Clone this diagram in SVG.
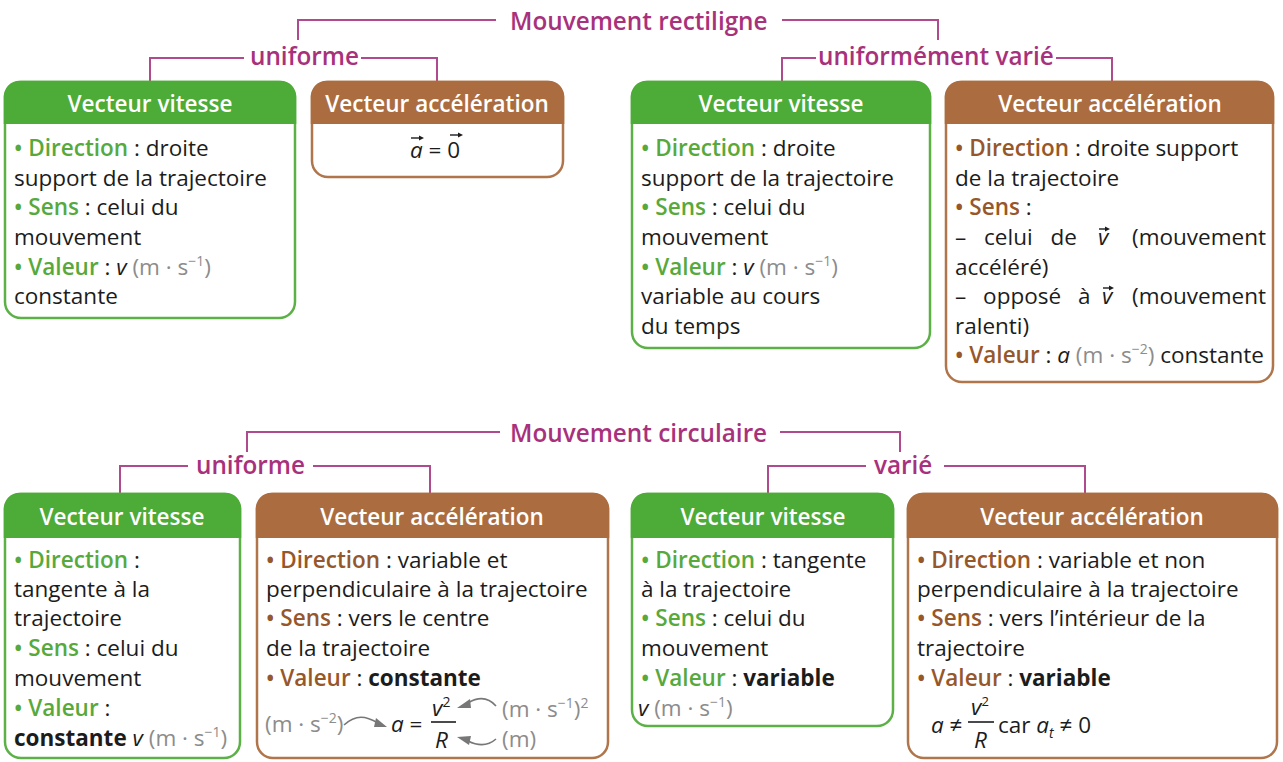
<svg xmlns="http://www.w3.org/2000/svg" width="1283" height="762" viewBox="0 0 1283 762">
<style>
text{font-family:"Open Sans","Noto Sans",sans-serif;}
.t{font-size:22.5px;fill:#1c1c1c;}
.g{fill:#57a93c;font-weight:600;}
.b{fill:#96572b;font-weight:600;}
.u{fill:#8c8c8c;}
.i{font-style:italic;}
.bd{font-weight:bold;}
.h{font-size:22.5px;font-weight:600;fill:#ffffff;text-anchor:middle;}
.m{font-size:24.3px;font-weight:600;fill:#a8317c;}
.gb{fill:#ffffff;stroke:#5bb046;stroke-width:2.5;}
.bb{fill:#ffffff;stroke:#b0754a;stroke-width:2.5;}
.gh{fill:#4dab37;}
.bh{fill:#ab6d3f;}
.br{fill:none;stroke:#b04a8e;stroke-width:2;}
.vec{fill:none;stroke:#1c1c1c;stroke-width:1.4;}
.arr{fill:#1c1c1c;}
.ca{fill:none;stroke:#777;stroke-width:1.6;}
.cah{fill:#777;}
</style>

<g id="connectors">
  <path class="br" d="M298,40 V20 H496"/>
  <path class="br" d="M782,20 H938 V40"/>
  <path class="br" d="M150,82 V58 H244"/>
  <path class="br" d="M361,58 H437 V82"/>
  <path class="br" d="M782,82 V58 H816"/>
  <path class="br" d="M1056,58 H1112 V82"/>
  <path class="br" d="M247,452 V432 H500"/>
  <path class="br" d="M780,432 H900 V452"/>
  <path class="br" d="M120,494 V466 H188"/>
  <path class="br" d="M313,466 H430 V494"/>
  <path class="br" d="M768,494 V466 H866"/>
  <path class="br" d="M944,466 H1085 V494"/>
</g>

<g id="titles">
  <text class="m" x="510" y="30">Mouvement rectiligne</text>
  <text class="m" x="250" y="65">uniforme</text>
  <text class="m" x="818" y="65">uniformément varié</text>
  <text class="m" x="510" y="442">Mouvement circulaire</text>
  <text class="m" x="196" y="474">uniforme</text>
  <text class="m" x="874" y="474">varié</text>
</g>

<!-- top row -->
<g id="rect-uniforme-vitesse">
  <rect class="gb" x="5" y="82" width="290" height="236" rx="16"/>
  <path class="gh" d="M3.75,124 V98 A16,16 0 0 1 19.75,80.75 H280.25 A16,16 0 0 1 296.25,98 V124 Z"/>
  <text class="h" x="150" y="112">Vecteur vitesse</text>
  <text class="t" x="14" y="156"><tspan class="g">• Direction</tspan> : droite</text>
  <text class="t" x="14" y="186">support de la trajectoire</text>
  <text class="t" x="14" y="215"><tspan class="g">• Sens</tspan> : celui du</text>
  <text class="t" x="14" y="245">mouvement</text>
  <text class="t" x="14" y="275"><tspan class="g">• Valeur</tspan> : <tspan class="i">v</tspan> <tspan class="u">(m · s<tspan font-size="14" dy="-9">−1</tspan><tspan dy="9">)</tspan></tspan></text>
  <text class="t" x="14" y="304">constante</text>
</g>

<g id="rect-uniforme-acceleration">
  <rect class="bb" x="312" y="82" width="251" height="95" rx="16"/>
  <path class="bh" d="M310.75,124 V98 A16,16 0 0 1 326.75,80.75 H548.25 A16,16 0 0 1 564.25,98 V124 Z"/>
  <text class="h" x="437" y="112">Vecteur accélération</text>
  <text class="t" x="410" y="158"><tspan class="i">a</tspan> = 0</text>
  <path class="vec" d="M411,138 H421"/><path class="arr" d="M424,138 L419,135.5 L419,140.5 Z"/>
  <path class="vec" d="M450,135 H460"/><path class="arr" d="M463,135 L458,132.5 L458,137.5 Z"/>
</g>

<g id="rect-uv-vitesse">
  <rect class="gb" x="632" y="82" width="298" height="266" rx="16"/>
  <path class="gh" d="M630.75,124 V98 A16,16 0 0 1 646.75,80.75 H915.25 A16,16 0 0 1 931.25,98 V124 Z"/>
  <text class="h" x="781" y="112">Vecteur vitesse</text>
  <text class="t" x="641" y="156"><tspan class="g">• Direction</tspan> : droite</text>
  <text class="t" x="641" y="186">support de la trajectoire</text>
  <text class="t" x="641" y="215"><tspan class="g">• Sens</tspan> : celui du</text>
  <text class="t" x="641" y="245">mouvement</text>
  <text class="t" x="641" y="275"><tspan class="g">• Valeur</tspan> : <tspan class="i">v</tspan> <tspan class="u">(m · s<tspan font-size="14" dy="-9">−1</tspan><tspan dy="9">)</tspan></tspan></text>
  <text class="t" x="641" y="304">variable au cours</text>
  <text class="t" x="641" y="334">du temps</text>
</g>

<g id="rect-uv-acceleration">
  <rect class="bb" x="946" y="82" width="327" height="300" rx="16"/>
  <path class="bh" d="M944.75,124 V98 A16,16 0 0 1 960.75,80.75 H1258.25 A16,16 0 0 1 1274.25,98 V124 Z"/>
  <text class="h" x="1110" y="112">Vecteur accélération</text>
  <text class="t" x="955" y="156"><tspan class="b">• Direction</tspan> : droite support</text>
  <text class="t" x="955" y="186">de la trajectoire</text>
  <text class="t" x="955" y="215"><tspan class="b">• Sens</tspan> :</text>
  <text class="t" x="955" y="245" word-spacing="12">– celui de</text>
  <text class="t i" x="1098" y="245">v</text>
  <path class="vec" d="M1099,229 H1107"/><path class="arr" d="M1110,229 L1105,226.5 L1105,231.5 Z"/>
  <text class="t" x="1266" y="245" text-anchor="end">(mouvement</text>
  <text class="t" x="955" y="275">accéléré)</text>
  <text class="t" x="955" y="304" word-spacing="11">– opposé à</text>
  <text class="t i" x="1102" y="304">v</text>
  <path class="vec" d="M1103,288 H1111"/><path class="arr" d="M1114,288 L1109,285.5 L1109,290.5 Z"/>
  <text class="t" x="1266" y="304" text-anchor="end">(mouvement</text>
  <text class="t" x="955" y="334">ralenti)</text>
  <text class="t" x="955" y="363"><tspan class="b">• Valeur</tspan> : <tspan class="i">a</tspan> <tspan class="u">(m · s<tspan font-size="14" dy="-9">−2</tspan><tspan dy="9">)</tspan></tspan> constante</text>
</g>

<!-- bottom row -->
<g id="circ-uniforme-vitesse">
  <rect class="gb" x="5" y="494" width="235" height="264" rx="16"/>
  <path class="gh" d="M3.75,538 V510 A16,16 0 0 1 19.75,492.75 H225.25 A16,16 0 0 1 241.25,510 V538 Z"/>
  <text class="h" x="122" y="525">Vecteur vitesse</text>
  <text class="t" x="14" y="568"><tspan class="g">• Direction</tspan> :</text>
  <text class="t" x="14" y="597">tangente à la</text>
  <text class="t" x="14" y="626">trajectoire</text>
  <text class="t" x="14" y="656"><tspan class="g">• Sens</tspan> : celui du</text>
  <text class="t" x="14" y="686">mouvement</text>
  <text class="t" x="14" y="716"><tspan class="g">• Valeur</tspan> :</text>
  <text class="t" x="14" y="746"><tspan class="bd">constante</tspan> <tspan class="i">v</tspan> <tspan class="u">(m · s<tspan font-size="14" dy="-9">−1</tspan><tspan dy="9">)</tspan></tspan></text>
</g>

<g id="circ-uniforme-acceleration">
  <rect class="bb" x="257" y="494" width="351" height="264" rx="16"/>
  <path class="bh" d="M255.75,538 V510 A16,16 0 0 1 271.75,492.75 H593.25 A16,16 0 0 1 609.25,510 V538 Z"/>
  <text class="h" x="432" y="525">Vecteur accélération</text>
  <text class="t" x="266" y="568"><tspan class="b">• Direction</tspan> : variable et</text>
  <text class="t" x="266" y="597">perpendiculaire à la trajectoire</text>
  <text class="t" x="266" y="626"><tspan class="b">• Sens</tspan> : vers le centre</text>
  <text class="t" x="266" y="656">de la trajectoire</text>
  <text class="t" x="266" y="686"><tspan class="b">• Valeur</tspan> : <tspan class="bd">constante</tspan></text>
  <text class="t u" x="265" y="732">(m · s<tspan font-size="14" dy="-9">−2</tspan><tspan dy="9">)</tspan></text>
  <path class="ca" d="M344,725 C356,714 366,716 378,723"/><path class="cah" d="M387,727 L376,718 L374,727 Z"/>
  <text class="t" x="391" y="732"><tspan class="i">a</tspan> =</text>
  <text class="t i" x="432" y="716">v<tspan font-size="14" dy="-9" font-style="normal">2</tspan></text>
  <path d="M431,722 H456" stroke="#1c1c1c" stroke-width="1.6"/>
  <text class="t i" x="435" y="748">R</text>
  <path class="ca" d="M496,706 C488,697 478,697 468,703"/><path class="cah" d="M457,708 L470,699 L471,708 Z"/>
  <text class="t u" x="502" y="717">(m · s<tspan font-size="14" dy="-9">−1</tspan><tspan dy="9">)</tspan><tspan font-size="14" dy="-9">2</tspan></text>
  <path class="ca" d="M496,739 C488,746 478,746 468,741"/><path class="cah" d="M457,737 L471,736 L469,745 Z"/>
  <text class="t u" x="502" y="747">(m)</text>
</g>

<g id="circ-varie-vitesse">
  <rect class="gb" x="632" y="494" width="261" height="232" rx="16"/>
  <path class="gh" d="M630.75,538 V510 A16,16 0 0 1 646.75,492.75 H878.25 A16,16 0 0 1 894.25,510 V538 Z"/>
  <text class="h" x="763" y="525">Vecteur vitesse</text>
  <text class="t" x="641" y="568"><tspan class="g">• Direction</tspan> : tangente</text>
  <text class="t" x="641" y="597">à la trajectoire</text>
  <text class="t" x="641" y="626"><tspan class="g">• Sens</tspan> : celui du</text>
  <text class="t" x="641" y="656">mouvement</text>
  <text class="t" x="641" y="686"><tspan class="g">• Valeur</tspan> : <tspan class="bd">variable</tspan></text>
  <text class="t" x="638" y="716"><tspan class="i">v</tspan> <tspan class="u">(m · s<tspan font-size="14" dy="-9">−1</tspan><tspan dy="9">)</tspan></tspan></text>
</g>

<g id="circ-varie-acceleration">
  <rect class="bb" x="908" y="494" width="369" height="264" rx="16"/>
  <path class="bh" d="M906.75,538 V510 A16,16 0 0 1 922.75,492.75 H1262.25 A16,16 0 0 1 1278.25,510 V538 Z"/>
  <text class="h" x="1092" y="525">Vecteur accélération</text>
  <text class="t" x="917" y="568"><tspan class="b">• Direction</tspan> : variable et non</text>
  <text class="t" x="917" y="597">perpendiculaire à la trajectoire</text>
  <text class="t" x="917" y="626"><tspan class="b">• Sens</tspan> : vers l’intérieur de la</text>
  <text class="t" x="917" y="656">trajectoire</text>
  <text class="t" x="917" y="686"><tspan class="b">• Valeur</tspan> : <tspan class="bd">variable</tspan></text>
  <text class="t" x="931" y="733"><tspan class="i">a</tspan> ≠</text>
  <text class="t i" x="971" y="715">v<tspan font-size="13" dy="-9" font-style="normal">2</tspan></text>
  <path d="M968,722 H994" stroke="#1c1c1c" stroke-width="1.6"/>
  <text class="t i" x="974" y="748">R</text>
  <text class="t" x="998" y="733">car <tspan class="i">a</tspan><tspan font-size="14" dy="5" class="i">t</tspan><tspan dy="-5"> ≠ 0</tspan></text>
</g>
</svg>
